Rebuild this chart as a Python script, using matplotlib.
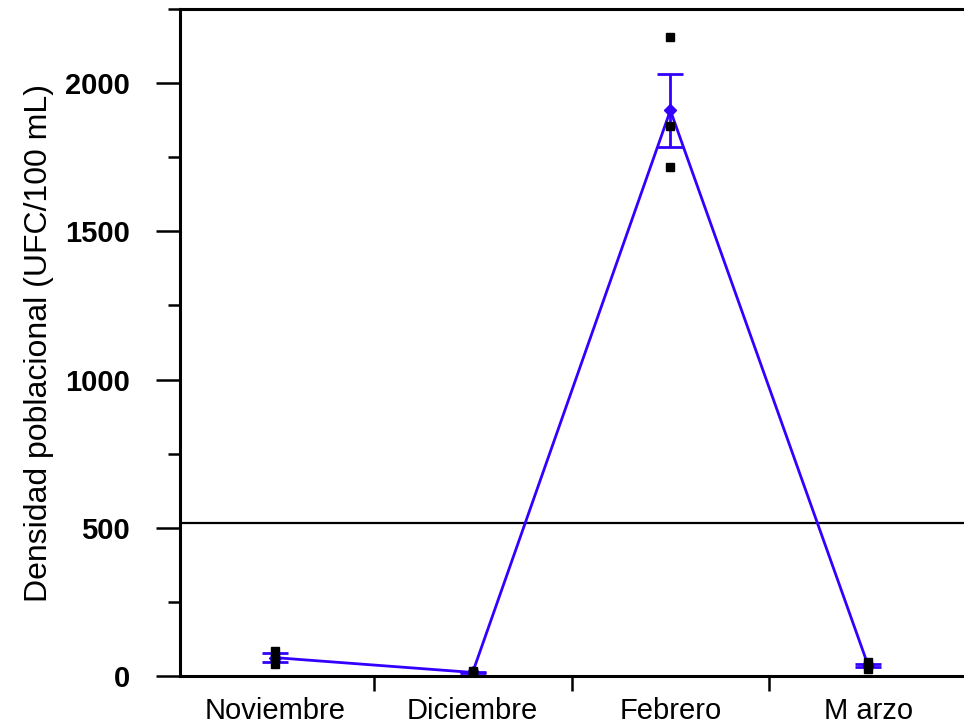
import matplotlib.pyplot as plt
import numpy as np

plt.rcParams['font.family'] = ['Liberation Sans', 'DejaVu Sans']

meses = ['Noviembre', 'Diciembre', 'Febrero', 'M arzo']
# individual observations per month (UFC/100 mL)
obs = [
    [40, 60, 85],
    [8, 12, 17],
    [1717, 1856, 2156],
    [22, 36, 48],
]
medias = [62, 12, 1908, 36]
errores = [15, 3, 123, 5]
linea_ref = 515

fig = plt.figure(figsize=(9.64, 7.27), dpi=100)
ax = fig.add_axes([180 / 964, 1 - 676 / 727, 1 - 180 / 964, (676 - 9) / 727])

azul = '#3300ff'
x = np.arange(len(meses))

ax.plot(x, medias, color=azul, lw=2, zorder=3)
ax.errorbar(x, medias, yerr=errores, fmt='none', ecolor=azul, elinewidth=2,
            capsize=9.5, capthick=2, zorder=4)
ax.plot(x, medias, 'D', color=azul, ms=6, zorder=4)

for i, vals in enumerate(obs):
    ax.plot([x[i]] * len(vals), vals, 's', color='black', ms=5.5, zorder=5)

ax.axhline(linea_ref, color='black', lw=1.6, zorder=2)

ax.set_xlim(-0.48, 3.485)
ax.set_ylim(0, 2250)

ax.set_yticks([0, 500, 1000, 1500, 2000])
ax.set_yticks([250, 750, 1250, 1750, 2250], minor=True)
ax.set_yticklabels(['0', '500', '1000', '1500', '2000'], fontsize=21, fontweight='bold')
ax.tick_params(axis='y', which='major', length=17, width=1.8, pad=19)
ax.tick_params(axis='y', which='minor', length=9, width=1.8)

ax.set_xticks([0.5, 1.5, 2.5])
ax.set_xticklabels([])
ax.set_xticks(x, minor=True)
ax.set_xticklabels(meses, minor=True, fontsize=21)
ax.tick_params(axis='x', which='major', length=11, width=1.8)
ax.tick_params(axis='x', which='minor', length=0, pad=15)

ax.set_ylabel('Densidad poblacional (UFC/100 mL)', fontsize=23, labelpad=8)

for s in ['left', 'top', 'bottom']:
    ax.spines[s].set_linewidth(2.2)
ax.spines['right'].set_visible(False)

fig.savefig('out.png', dpi=100)
